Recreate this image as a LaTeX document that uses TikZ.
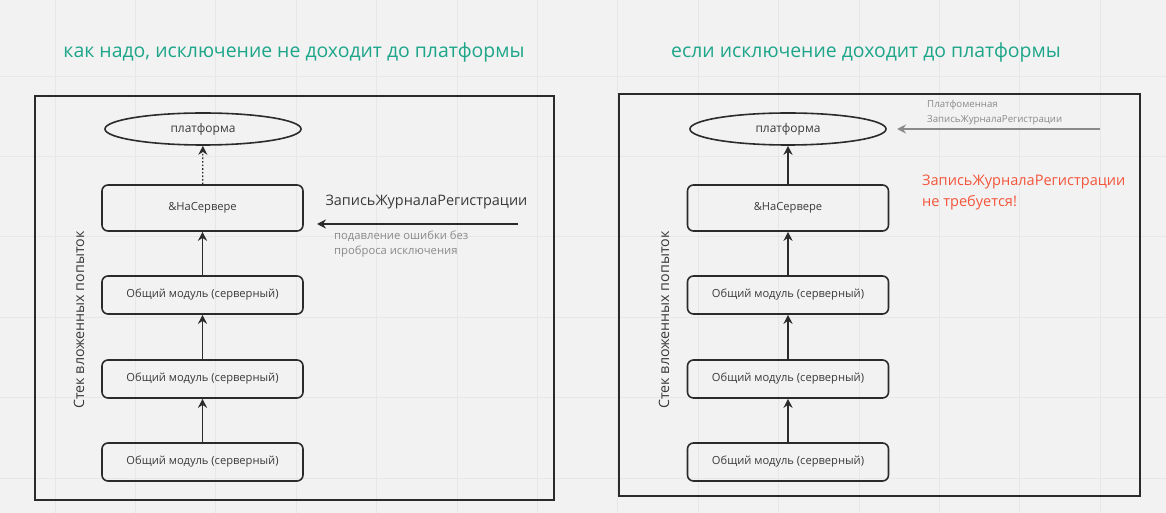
\documentclass[tikz,border=0pt]{standalone}
\usepackage{fontspec}
\setmainfont{Open Sans}
\usetikzlibrary{arrows.meta,shapes.geometric}
\definecolor{bg}{HTML}{F2F2F2}
\definecolor{gridc}{HTML}{E7E7E7}
\definecolor{ink}{HTML}{2B2B2B}
\definecolor{txt}{HTML}{3A3A3A}
\definecolor{soft}{HTML}{8A8A8A}
\definecolor{teal}{HTML}{1DA68A}
\definecolor{redc}{HTML}{F2553B}
\tikzset{
  frame/.style={draw=ink, line width=1.6bp},
  stackbox/.style={draw=ink, line width=1.6bp, rounded corners=6bp, minimum width=201bp, inner sep=0pt, text=txt, font=\fontsize{11.2}{13}\selectfont},
  platf/.style={ellipse, draw=ink, line width=1.6bp, minimum width=196bp, minimum height=32bp, inner sep=0pt, text=txt, font=\fontsize{12}{14}\selectfont},
  up/.style={draw=ink, line width=1.6bp, -{Stealth[length=9bp,width=9bp]}},
  title/.style={text=teal, font=\fontsize{19.5}{23}\selectfont},
  sidelabel/.style={rotate=90, text=txt, font=\fontsize{14.3}{17}\selectfont},
}
\begin{document}
\begin{tikzpicture}[x=1bp,y=-1bp]
\useasboundingbox (0,0) rectangle (1166,513);
\fill[bg] (0,0) rectangle (1166,513);
\foreach \i in {0,...,14} {\draw[gridc, line width=0.8bp] (55+80.4*\i,0) -- (55+80.4*\i,513);}
\foreach \j in {0,...,5} {\draw[gridc, line width=0.8bp] (0,76+80.4*\j) -- (1166,76+80.4*\j);}

% ---------- left panel ----------
\node[title] (Ltitle) at (294,52) {как надо, исключение не доходит до платформы};
\draw[frame] (35,96) rectangle (554,500);
\node[sidelabel] (Lside) at (79,320) {Стек вложенных попыток};
\node[platf] (Lplat) at (203,129) {платформа};
\node[stackbox, minimum height=46bp] (Lsrv) at (202.5,208) {\&НаСервере};
\node[stackbox, minimum height=38bp] (Lm1) at (202.5,295) {Общий модуль (серверный)};
\node[stackbox, minimum height=38bp] (Lm2) at (202.5,379) {Общий модуль (серверный)};
\node[stackbox, minimum height=38bp] (Lm3) at (202.5,462) {Общий модуль (серверный)};
\draw[up] (Lm3) -- (Lm2);
\draw[up] (Lm2) -- (Lm1);
\draw[up] (Lm1) -- (Lsrv);
\draw[up, dotted, line width=1.2bp] (Lsrv) -- (Lplat);
\coordinate (Lfrom) at (518,224);
\coordinate (Lto) at (317,224);
\draw[up] (Lfrom) -- (Lto);
\node[anchor=west, text=txt, font=\fontsize{14.5}{17}\selectfont] (Lrec) at (322,202) {ЗаписьЖурналаРегистрации};
\node[anchor=west, align=left, text=soft, font=\fontsize{11.3}{15}\selectfont, inner sep=0pt] (Lnote) at (334,244.5) {подавление ошибки без\\проброса исключения};

% ---------- right panel ----------
\node[title] (Rtitle) at (866,52) {если исключение доходит до платформы};
\draw[frame] (619,94) rectangle (1140,496);
\node[sidelabel] (Rside) at (664,320) {Стек вложенных попыток};
\node[platf] (Rplat) at (788,129) {платформа};
\node[stackbox, minimum height=46bp] (Rsrv) at (788,208) {\&НаСервере};
\node[stackbox, minimum height=38bp] (Rm1) at (788,295) {Общий модуль (серверный)};
\node[stackbox, minimum height=38bp] (Rm2) at (788,379) {Общий модуль (серверный)};
\node[stackbox, minimum height=38bp] (Rm3) at (788,462) {Общий модуль (серверный)};
\draw[up] (Rm3) -- (Rm2);
\draw[up] (Rm2) -- (Rm1);
\draw[up] (Rm1) -- (Rsrv);
\draw[up] (Rsrv) -- (Rplat);
\coordinate (Rfrom) at (1100,129);
\coordinate (Rto) at (897,129);
\draw[up, draw=soft] (Rfrom) -- (Rto);
\node[anchor=west, align=left, text=soft, font=\fontsize{9.7}{15}\selectfont, inner sep=0pt] (Rnote) at (927,112.5) {Платфоменная\\ЗаписьЖурналаРегистрации};
\node[anchor=west, align=left, text=redc, font=\fontsize{14.6}{21}\selectfont, inner sep=0pt] (Rred) at (922,192.5) {ЗаписьЖурналаРегистрации\\не требуется!};
\end{tikzpicture}
\end{document}
